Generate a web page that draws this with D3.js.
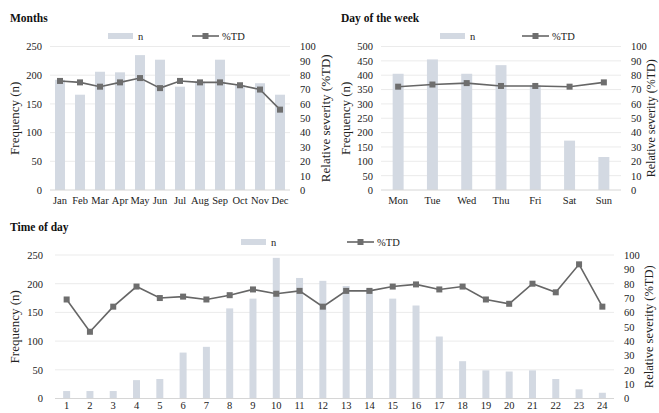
<!DOCTYPE html>
<html>
<head>
<meta charset="utf-8">
<script src="https://cdn.jsdelivr.net/npm/d3@7"></script>
<style>
  body { margin: 0; background: #fff; }
  svg, svg text { font-family: "Liberation Serif", "Times New Roman", Times, "DejaVu Serif", serif; }
  .tick text { fill: #222; }
</style>
</head>
<body>
<div id="chart"></div>
<script>
// Months
var months = ["Jan", "Feb", "Mar", "Apr", "May", "Jun", "Jul", "Aug", "Sep", "Oct", "Nov", "Dec"];
var monthN = [192, 166, 206, 205, 235, 227, 180, 189, 227, 183, 186, 166];
var monthTD = [76, 75, 72, 75, 78, 71, 76, 75, 75, 73, 70, 56];

// Day of the week
var days = ["Mon", "Tue", "Wed", "Thu", "Fri", "Sat", "Sun"];
var dayN = [405, 455, 405, 435, 365, 172, 115];
var dayTD = [72, 73.5, 74.5, 72.5, 72.5, 72, 75];

// Time of day
var hours = ["1", "2", "3", "4", "5", "6", "7", "8", "9", "10", "11", "12",
             "13", "14", "15", "16", "17", "18", "19", "20", "21", "22", "23", "24"];
var hourN = [13, 13, 13, 32, 34, 80, 90, 157, 174, 245, 210, 205,
             196, 192, 174, 162, 108, 65, 49, 47, 49, 34, 16, 10];
var hourTD = [69, 46.5, 64, 78, 70, 71, 69, 72, 76, 73, 75, 64,
              75, 75, 78, 79.5, 76, 78, 69, 66, 80, 74, 93.5, 64];

var barColor = "#d3d9e2";
var lineColor = "#666";
var serif = "'Liberation Serif', 'Times New Roman', Times, 'DejaVu Serif', serif";

var svg = d3.select("#chart").append("svg")
    .attr("width", 659)
    .attr("height", 413);

/*
 * draws one combo chart: bars on the left axis, %TD line on the right axis
 */
function comboChart(opt) {
  var g = svg.append("g");

  var x = d3.scaleBand()
      .domain(opt.cats)
      .range([opt.left, opt.right])
      .paddingInner(opt.pad)
      .paddingOuter(opt.pad / 2);

  var y = d3.scaleLinear().domain([0, opt.nMax]).range([opt.bottom, opt.top]);
  var y2 = d3.scaleLinear().domain([0, 100]).range([opt.bottom, opt.top]);

  // gridlines
  g.append("g")
      .selectAll("line")
      .data(y.ticks(opt.nTicks).filter(function(d) { return d > 0; }))
      .enter().append("line")
      .attr("x1", opt.left).attr("x2", opt.right)
      .attr("y1", function(d) { return y(d); })
      .attr("y2", function(d) { return y(d); })
      .attr("stroke", "#ebebeb");

  // bars
  g.append("g")
      .selectAll("rect")
      .data(opt.n)
      .enter().append("rect")
      .attr("x", function(d, i) { return x(opt.cats[i]); })
      .attr("y", function(d) { return y(d); })
      .attr("width", x.bandwidth())
      .attr("height", function(d) { return opt.bottom - y(d); })
      .attr("fill", barColor);

  // baseline
  g.append("line")
      .attr("x1", opt.left).attr("x2", opt.right)
      .attr("y1", opt.bottom).attr("y2", opt.bottom)
      .attr("stroke", "#d6d6d6");

  // left axis
  var yAxis = d3.axisLeft(y).ticks(opt.nTicks).tickSize(0).tickPadding(opt.lPad);
  g.append("g")
      .attr("transform", "translate(" + opt.left + ",0)")
      .call(yAxis)
      .call(function(a) { a.select(".domain").remove(); })
      .selectAll("text").style("font-size", "10.5px").style("font-family", serif);

  // right axis
  var y2Axis = d3.axisRight(y2).ticks(10).tickSize(0).tickPadding(10);
  g.append("g")
      .attr("transform", "translate(" + opt.right + ",0)")
      .call(y2Axis)
      .call(function(a) { a.select(".domain").remove(); })
      .selectAll("text").style("font-size", "10.5px").style("font-family", serif);

  // bottom axis
  var xAxis = d3.axisBottom(x).tickSize(0).tickPadding(opt.xPad);
  g.append("g")
      .attr("transform", "translate(0," + opt.bottom + ")")
      .call(xAxis)
      .call(function(a) { a.select(".domain").remove(); })
      .selectAll("text").style("font-size", "10.5px").style("font-family", serif);

  // %TD line
  var line = d3.line()
      .x(function(d, i) { return x(opt.cats[i]) + x.bandwidth() / 2; })
      .y(function(d) { return y2(d); });

  g.append("path")
      .datum(opt.td)
      .attr("d", line)
      .attr("fill", "none")
      .attr("stroke", lineColor)
      .attr("stroke-width", 1.6);

  g.append("g")
      .selectAll("rect")
      .data(opt.td)
      .enter().append("rect")
      .attr("x", function(d, i) { return x(opt.cats[i]) + x.bandwidth() / 2 - 3; })
      .attr("y", function(d) { return y2(d) - 3; })
      .attr("width", 6).attr("height", 6)
      .attr("fill", "#6e6e6e");

  // title
  g.append("text")
      .attr("x", opt.titleX).attr("y", opt.titleY)
      .attr("font-weight", "bold")
      .attr("font-size", "11.5px")
      .attr("fill", "#111")
      .text(opt.title);

  // axis titles
  var midY = (opt.top + opt.bottom) / 2;
  g.append("text")
      .attr("transform", "translate(" + opt.lTitleX + "," + midY + ") rotate(-90)")
      .attr("text-anchor", "middle")
      .attr("font-size", "13px")
      .attr("fill", "#222")
      .text("Frequency (n)");

  g.append("text")
      .attr("transform", "translate(" + opt.rTitleX + "," + midY + ") rotate(-90)")
      .attr("text-anchor", "middle")
      .attr("font-size", opt.rTitleSize || "13px")
      .attr("fill", "#222")
      .text("Relative severity (%TD)");

  // legend
  var lg = g.append("g").attr("font-size", "10.5px").attr("fill", "#222");
  lg.append("rect")
      .attr("x", opt.legX).attr("y", opt.legY - 3)
      .attr("width", 25).attr("height", 6)
      .attr("fill", barColor);
  lg.append("text")
      .attr("x", opt.legX + 30).attr("y", opt.legY + 3.5)
      .text("n");
  lg.append("line")
      .attr("x1", opt.legX2).attr("x2", opt.legX2 + 27)
      .attr("y1", opt.legY).attr("y2", opt.legY)
      .attr("stroke", lineColor).attr("stroke-width", 1.6);
  lg.append("rect")
      .attr("x", opt.legX2 + 10.5).attr("y", opt.legY - 3)
      .attr("width", 6).attr("height", 6)
      .attr("fill", "#6e6e6e");
  lg.append("text")
      .attr("x", opt.legX2 + 30).attr("y", opt.legY + 3.5)
      .text("%TD");
}

comboChart({
  cats: months, n: monthN, td: monthTD, nMax: 250, nTicks: 5,
  left: 50, right: 290, top: 46.5, bottom: 190, pad: 0.5, lPad: 8, xPad: 7,
  title: "Months", titleX: 10, titleY: 22,
  lTitleX: 19, rTitleX: 330,
  legX: 108, legX2: 192, legY: 36
});

comboChart({
  cats: days, n: dayN, td: dayTD, nMax: 500, nTicks: 10,
  left: 381, right: 621, top: 46.5, bottom: 190, pad: 0.68, lPad: 8, xPad: 7,
  title: "Day of the week", titleX: 341, titleY: 22,
  lTitleX: 350, rTitleX: 655, rTitleSize: "12px",
  legX: 440, legX2: 522, legY: 36
});

comboChart({
  cats: hours, n: hourN, td: hourTD, nMax: 250, nTicks: 5,
  left: 55, right: 614, top: 255, bottom: 398.5, pad: 0.7, lPad: 12, xPad: 3,
  title: "Time of day", titleX: 10, titleY: 231,
  lTitleX: 19, rTitleX: 653, rTitleSize: "12.5px",
  legX: 241, legX2: 347, legY: 242
});
</script>
</body>
</html>
